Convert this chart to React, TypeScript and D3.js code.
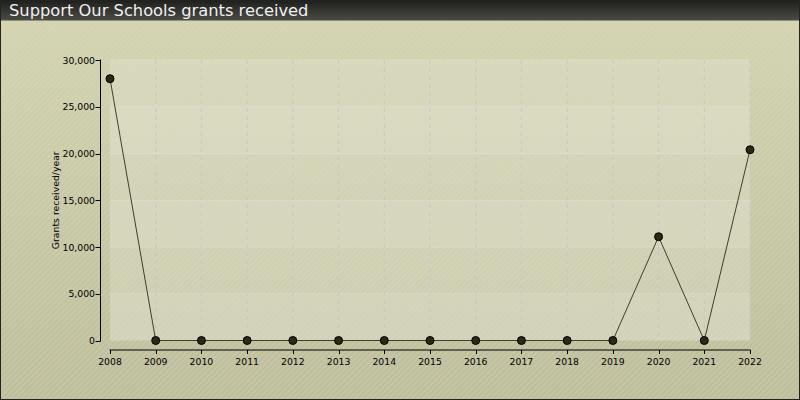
import React from 'react';
import * as d3 from 'd3';

const years = [2008, 2009, 2010, 2011, 2012, 2013, 2014, 2015, 2016, 2017, 2018, 2019, 2020, 2021, 2022];
const grants = [28000, 0, 0, 0, 0, 0, 0, 0, 0, 0, 0, 0, 11100, 0, 20400];
const yTicks = [0, 5000, 10000, 15000, 20000, 25000, 30000];

const title = 'Support Our Schools grants received';
const yLabel = 'Grants received/year';

const W = 800;
const H = 400;
const plot = { left: 110, right: 750, top: 60, bottom: 340.5 };
const font = 'DejaVu Sans, Verdana, sans-serif';
const tickSize = 9.3;

const App: React.FC = () => {
  const x = d3.scaleLinear().domain([years[0], years[years.length - 1]]).range([plot.left, plot.right]);
  const y = d3.scaleLinear().domain([0, 30000]).range([plot.bottom, plot.top]);
  const fmt = d3.format(',');

  const line = d3
    .line<number>()
    .x((_, i) => x(years[i]))
    .y((d) => y(d));

  const axisX = plot.left - 9.5;
  const axisY = plot.bottom + 9.5;

  return (
    <div style={{ position: 'absolute', left: 0, top: 0 }}>
      <svg width={W} height={H} style={{ display: 'block' }}>
        <defs>
          <linearGradient id="bg" x1="0" y1="0" x2="0" y2="1">
            <stop offset="0" stopColor="#d4d4b6" />
            <stop offset="1" stopColor="#bcbc9e" />
          </linearGradient>
          <linearGradient id="titleGrad" x1="0" y1="0" x2="0" y2="1">
            <stop offset="0" stopColor="#1e1e1c" />
            <stop offset="1" stopColor="#4c4c46" />
          </linearGradient>
          <pattern id="hatch" patternUnits="userSpaceOnUse" width="4" height="4" patternTransform="rotate(45)">
            <rect x="0" y="0" width="1.6" height="4" fill="#e4e4a8" opacity="0.3" />
          </pattern>
        </defs>

        {/* background */}
        <rect x={0} y={0} width={W} height={H} fill="url(#bg)" />

        {/* plot area bands */}
        <rect x={plot.left} y={plot.top} width={plot.right - plot.left} height={plot.bottom - plot.top} fill="#e8e8e0" opacity={0.3} />
        {yTicks.slice(0, -1).map((t, i) => (
          <rect
            key={t}
            x={plot.left}
            y={y(t + 5000)}
            width={plot.right - plot.left}
            height={y(t) - y(t + 5000)}
            fill="#f4f4ec"
            opacity={i % 2 === 0 ? 0.15 : 0}
          />
        ))}

        <rect x={0} y={0} width={W} height={H} fill="url(#hatch)" />

        {/* grid */}
        {yTicks.slice(1).map((t) => (
          <line key={t} x1={plot.left} x2={plot.right} y1={y(t)} y2={y(t)} stroke="#e4e4dc" strokeOpacity={0.5} />
        ))}
        {years.slice(1).map((yr) => (
          <line
            key={yr}
            x1={x(yr)}
            x2={x(yr)}
            y1={plot.top}
            y2={plot.bottom}
            stroke="#c6c6c6"
            strokeDasharray="4,4"
          />
        ))}

        {/* y axis */}
        <line x1={axisX} x2={axisX} y1={plot.top - 0.5} y2={plot.bottom + 1} stroke="#000" />
        {yTicks.map((t) => (
          <g key={t}>
            <line x1={axisX - 5} x2={axisX} y1={Math.round(y(t)) + 0.5} y2={Math.round(y(t)) + 0.5} stroke="#000" />
            <text x={axisX - 5.5} y={y(t) + 3.5} textAnchor="end" fontFamily={font} fontSize={tickSize} fill="#000">
              {fmt(t)}
            </text>
          </g>
        ))}
        <text
          transform={`translate(58.5,${(plot.top + plot.bottom) / 2}) rotate(-90)`}
          textAnchor="middle"
          fontFamily={font}
          fontSize={9.3}
          fill="#000"
        >
          {yLabel}
        </text>

        {/* x axis */}
        <line x1={plot.left - 0.5} x2={plot.right + 0.5} y1={axisY} y2={axisY} stroke="#000" />
        {years.map((yr) => (
          <g key={yr}>
            <line x1={Math.round(x(yr)) + 0.5} x2={Math.round(x(yr)) + 0.5} y1={axisY} y2={axisY + 4} stroke="#000" />
            <text x={x(yr)} y={axisY + 14.5} textAnchor="middle" fontFamily={font} fontSize={tickSize} fill="#000">
              {yr}
            </text>
          </g>
        ))}

        {/* data line and markers */}
        <path d={line(grants) ?? ''} fill="none" stroke="#3e3e2a" strokeWidth={1} />
        {grants.map((v, i) => (
          <circle key={years[i]} cx={x(years[i])} cy={y(v)} r={4} fill="#2a2a14" stroke="#000" strokeWidth={1} />
        ))}

        {/* title bar */}
        <rect x={0} y={0} width={W} height={20.5} fill="url(#titleGrad)" />
        <text x={9} y={16} fontFamily={font} fontSize={16.3} fill="#f0f0f0">
          {title}
        </text>

        {/* border */}
        <rect x={0.5} y={0.5} width={W - 1} height={H - 1} fill="none" stroke="#222" />
      </svg>
    </div>
  );
};

export default App;
